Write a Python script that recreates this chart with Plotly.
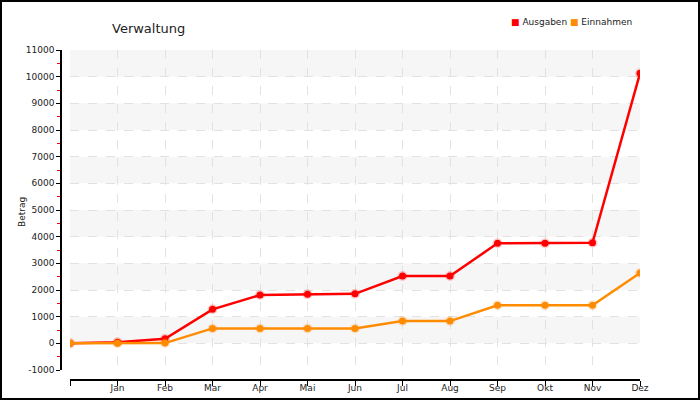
import plotly.graph_objects as go

months = ["", "Jan", "Feb", "Mar", "Apr", "Mai", "Jun", "Jul", "Aug", "Sep", "Okt", "Nov", "Dez"]
ausgaben = [0, 40, 170, 1275, 1810, 1840, 1855, 2525, 2525, 3750, 3750, 3770, 10125]
einnahmen = [0, 0, 10, 560, 560, 560, 560, 835, 835, 1425, 1425, 1425, 2635]
y_ticks = list(range(-1000, 12000, 1000))

W, H = 700, 400
L, R, T, B = 61, 60, 50, 20
pw = W - L - R
ph = H - T - B
xs = list(range(len(months)))

fig = go.Figure()

# alternating light bands
for y0 in range(0, 11000, 2000):
    fig.add_shape(type="rect", xref="x", yref="y", x0=0, x1=12, y0=y0, y1=y0 + 1000,
                  fillcolor="#f6f6f6", line_width=0, layer="below")

for name, vals, col, glow in [("Ausgaben", ausgaben, "#ff0000", "rgba(255,0,0,0.2)"),
                              ("Einnahmen", einnahmen, "#ff8c00", "rgba(255,140,0,0.2)")]:
    fig.add_trace(go.Scatter(x=xs, y=vals, mode="lines+markers", name=name, showlegend=False,
                             line=dict(color=col, width=2.5),
                             marker=dict(color=col, size=7, line=dict(color=glow, width=3))))

# legend as text
fig.add_annotation(xref="paper", yref="paper", x=(634 - L) / pw, y=(H - B - 22) / ph,
                   xanchor="right", yanchor="middle", showarrow=False,
                   text="<span style='color:#ff0000'>■</span> Ausgaben "
                        "<span style='color:#ff8c00'>■</span> Einnahmen",
                   font=dict(size=9, color="#222"))

# y axis title
fig.add_annotation(xref="paper", yref="paper", x=(22 - L) / pw, y=(H - B - 212) / ph,
                   xanchor="center", yanchor="middle", showarrow=False, textangle=-90,
                   text="Betrag", font=dict(size=9, color="#222"))

# outer frame
fig.add_shape(type="rect", xref="paper", yref="paper",
              x0=(1 - L) / pw, x1=(W - 1 - L) / pw,
              y0=(1 - B) / ph, y1=(H - 1 - B) / ph,
              line=dict(color="black", width=2), fillcolor="rgba(0,0,0,0)")

fig.update_layout(
    width=W, height=H,
    margin=dict(l=L, r=R, t=T, b=B, autoexpand=False),
    paper_bgcolor="white", plot_bgcolor="white",
    showlegend=False,
    font=dict(family="DejaVu Sans", size=9, color="#222"),
    title=dict(text="Verwaltung", x=112 / W, xref="container", xanchor="left",
               y=1 - 28 / H, yref="container", yanchor="middle",
               font=dict(size=13, color="#222")),
    xaxis=dict(domain=[(70 - L) / pw, 1], range=[0, 12], anchor="free", position=0,
               tickmode="array", tickvals=xs, ticktext=months, automargin=False,
               showline=True, linecolor="black", linewidth=1.5,
               ticks="outside", ticklen=5, tickcolor="black", ticklabelstandoff=-6,
               showgrid=True, gridcolor="#e2e2e2", griddash="dash", gridwidth=1,
               zeroline=False),
    yaxis=dict(domain=[(H - B - 370) / ph, 1], range=[-1000, 11000], anchor="free", position=0,
               tickmode="array", tickvals=y_ticks, ticktext=[str(v) for v in y_ticks],
               automargin=False,
               showline=True, linecolor="black", linewidth=1.5,
               ticks="outside", ticklen=4, tickcolor="black",
               minor=dict(ticks="outside", ticklen=3, tickcolor="red", dtick=500, tick0=500,
                          showgrid=False),
               showgrid=True, gridcolor="#e2e2e2", griddash="dash", gridwidth=1,
               zeroline=False),
)

fig.write_html("out.html", config={"displayModeBar": False},
               post_script="document.body.style.margin='0';")
